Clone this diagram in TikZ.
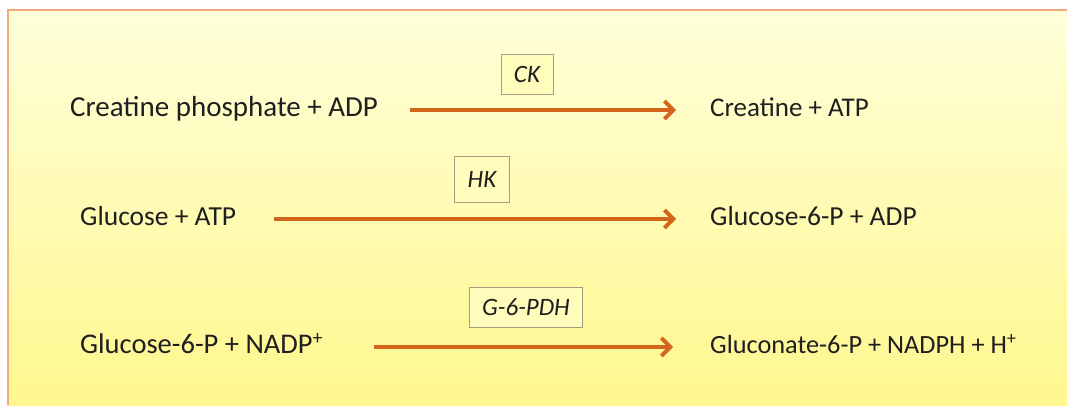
\documentclass[tikz,border=0pt]{standalone}
\usepackage{fontspec}
\setmainfont{Carlito}
\usepackage{tikz}
\usetikzlibrary{arrows.meta,positioning}

\definecolor{rxnorange}{HTML}{D3661A}
\definecolor{framerim}{HTML}{F2A97C}
\definecolor{enzrim}{HTML}{A39E80}
\definecolor{bgtop}{HTML}{FFFFDA}
\definecolor{bgbot}{HTML}{FFF78E}

\newcommand{\spsize}[1]{\fontsize{#1}{#1}\selectfont}

\tikzset{
  species/.style={inner sep=0pt,anchor=west,text=black!88,
    font=\spsize{27.5},text height=18pt,text depth=5pt},
  enzyme/.style={draw=enzrim,line width=0.8pt,fill=bgtop!60!bgbot,
    inner xsep=13pt,minimum height=40pt,text=black!88,
    font=\fontsize{25}{30}\selectfont\itshape},
  rxn/.style={draw=rxnorange,line width=3.8pt,
    -{Straight Barb[length=9pt,width=18pt]}}
}

\begin{document}
\begin{tikzpicture}[x=1pt,y=1pt]
\useasboundingbox (0,0) rectangle (1067,-405);
\fill[white] (0,0) rectangle (1067,-405);
\shade[top color=bgtop,bottom color=bgbot] (8,-10) rectangle (1067,-405);
\draw[framerim,line width=1.4pt] (8,-405) -- (8,-10) -- (1067,-10);

% reactants
\node[species,font=\spsize{29}] (cp) at (70,-110) {Creatine phosphate + ADP};
\node[species] (glc) at (80,-219) {Glucose + ATP};
\node[species,font=\spsize{28.5}] (g6p) at (80,-347) {Glucose-6-P + NADP\textsuperscript{+}};

% products
\node[species,font=\spsize{27}] (cr) at (710,-110) {Creatine + ATP};
\node[species] (g6pb) at (710,-219) {Glucose-6-P + ADP};
\node[species,font=\spsize{26.3}] (gcn) at (710,-347) {Gluconate-6-P + NADPH + H\textsuperscript{+}};

% enzymes
\node[enzyme] (ck) at (527,-74) {CK};
\node[enzyme,minimum height=46pt] (hk) at (482,-179) {HK};
\node[enzyme] (gpdh) at (526,-307) {G-6-PDH};

\draw[rxn,shorten <=32pt,shorten >=34pt] (cp.east) -- (cr.west);
\draw[rxn,shorten <=38pt,shorten >=34pt] (glc.east) -- (g6pb.west);
\draw[rxn,shorten <=51pt,shorten >=37pt] (g6p.east) -- (gcn.west);
\end{tikzpicture}
\end{document}
